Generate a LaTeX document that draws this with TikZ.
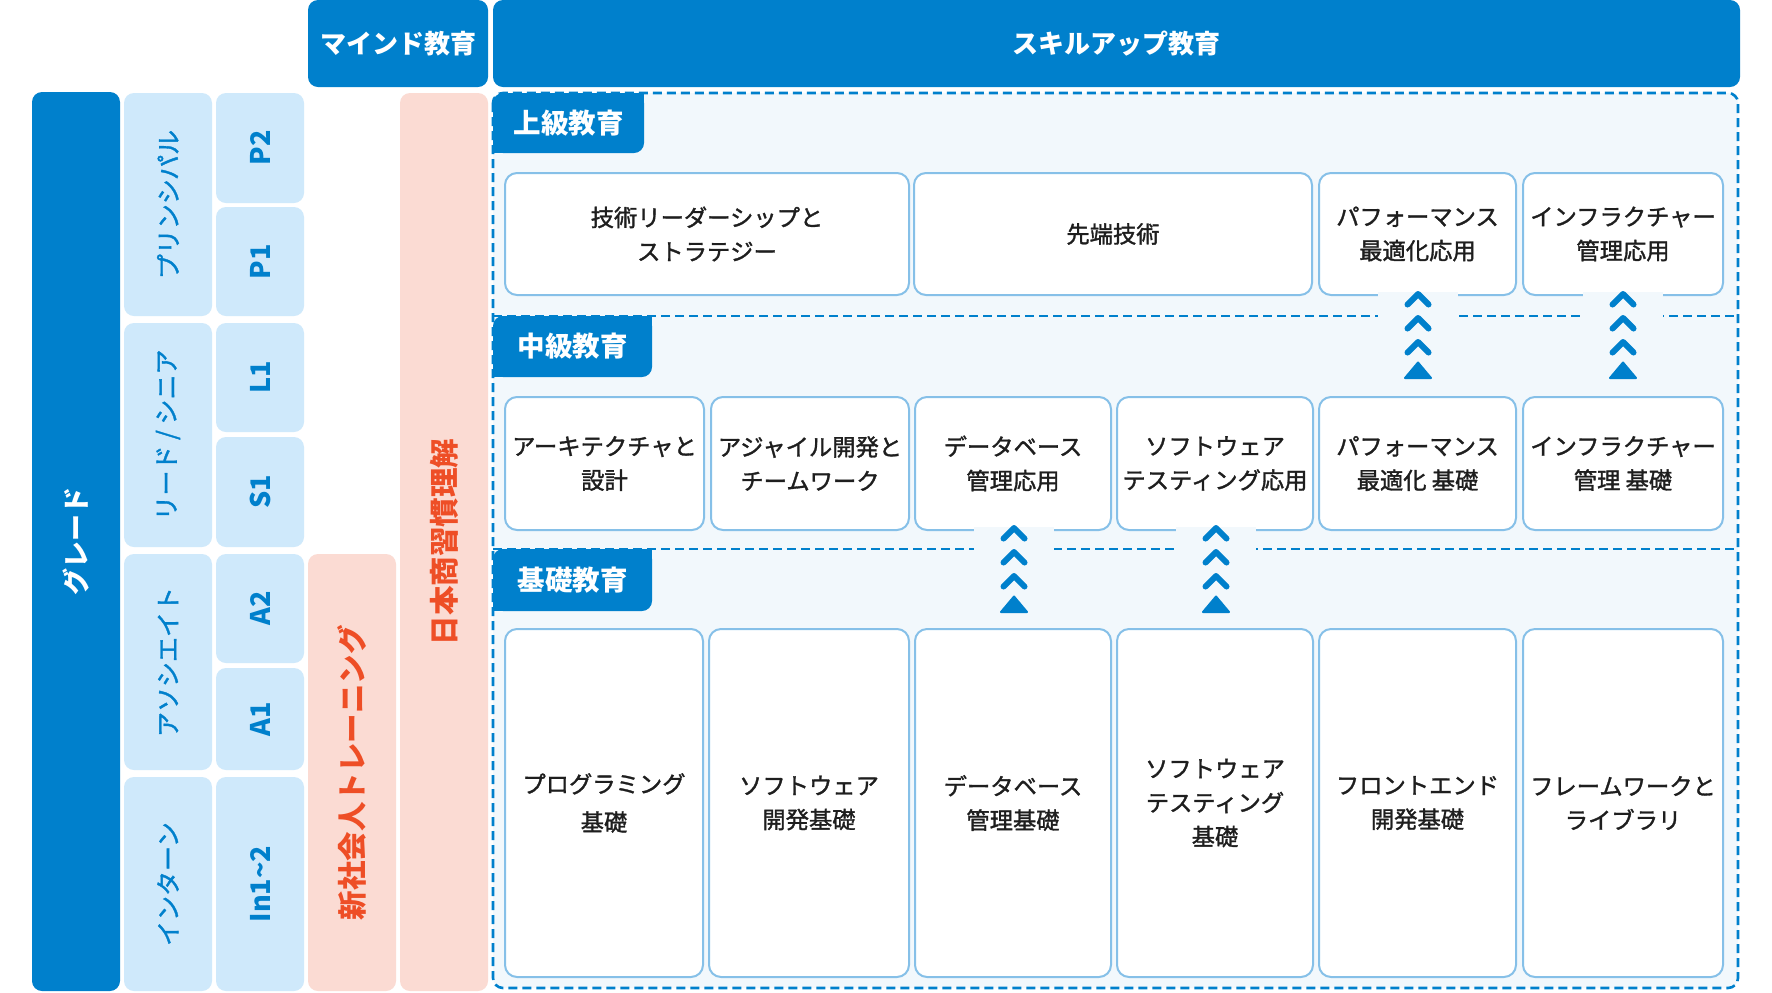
\documentclass[tikz,border=0pt]{standalone}
\usepackage{fontspec}
\setmainfont{Noto Sans CJK JP}
\newfontfamily\medfont[FakeBold=1.4]{Noto Sans CJK JP}
\definecolor{cblue}{RGB}{0,128,204}
\definecolor{clight}{RGB}{207,233,251}
\definecolor{cpink}{RGB}{251,219,211}
\definecolor{cred}{RGB}{238,78,38}
\definecolor{cbg}{RGB}{242,248,252}
\definecolor{cborder}{RGB}{134,192,232}
\definecolor{ctext}{RGB}{30,30,30}
\newcommand\rbox[7]{\node[#6, minimum width={(#4-#2)*0.5pt}, minimum height={(#5-#3)*0.5pt}] (#1) at ({(#2+#4)/2},{(#3+#5)/2}) {#7};}
\newcommand\rotbox[7]{\node[#6, rotate=90, minimum width={(#5-#3)*0.5pt}, minimum height={(#4-#2)*0.5pt}] (#1) at ({(#2+#4)/2},{(#3+#5)/2}) {#7};}
\newcommand\chev[2]{%
  \foreach \k in {0,24,48}{\draw[chevst] ({#1-10.5},{#2+\k+10.5}) -- ({#1},{#2+\k}) -- ({#1+10.5},{#2+\k+10.5});}
  \filldraw[chevtri] ({#1},{#2+68.5}) -- ({#1-13},{#2+84}) -- ({#1+13},{#2+84}) -- cycle;}
\begin{document}
\begin{tikzpicture}[x=0.5pt,y=-0.5pt,
  base/.style={inner sep=0pt, outer sep=0pt, align=center},
  hdr/.style={base, fill=cblue, rounded corners=5pt, text=white, font=\fontsize{13pt}{16pt}\selectfont\bfseries},
  grade/.style={base, fill=cblue, rounded corners=5pt, text=white, font=\fontsize{13.5pt}{16pt}\selectfont\bfseries},
  lvl/.style={base, fill=clight, rounded corners=5pt, text=cblue, font=\medfont\fontsize{12.5pt}{15pt}\selectfont},
  code/.style={base, fill=clight, rounded corners=5pt, text=cblue, font=\fontsize{13.5pt}{16pt}\selectfont\bfseries},
  pink/.style={base, fill=cpink, rounded corners=5pt, text=cred, font=\fontsize{14.75pt}{17pt}\selectfont\bfseries},
  tab/.style={base, fill=cblue, rounded corners=5pt, text=white, font=\fontsize{13.75pt}{16pt}\selectfont\bfseries},
  course/.style={base, fill=white, draw=cborder, line width=1pt, rounded corners=6pt, text=ctext, font=\medfont\fontsize{11.65pt}{17pt}\selectfont},
  region/.style={fill=cbg, draw=cblue, line width=1.3pt, dash pattern=on 4.5pt off 2.5pt, rounded corners=5pt},
  divider/.style={draw=cblue, line width=1.3pt, dash pattern=on 4.5pt off 2.5pt},
  cover/.style={fill=cbg},
  chevst/.style={draw=cblue, line width=3pt, line cap=round, line join=round},
  chevtri/.style={draw=cblue, fill=cblue, line width=1pt, line join=round}]
\useasboundingbox[fill=white] (0,0) rectangle (1772,992);
% headers
\rbox{hmind}{308}{0}{488}{87}{hdr}{マインド教育}
\rbox{hskill}{493}{0}{1740}{87}{hdr}{スキルアップ教育}
% left columns
\rotbox{grade}{32}{92}{120}{991}{grade}{グレード}
\rotbox{lp}{124}{93}{212}{316}{lvl}{プリンシパル}
\rotbox{ll}{124}{323}{212}{547}{lvl}{リード / シニア}
\rotbox{la}{124}{554}{212}{770}{lvl}{アソシエイト}
\rotbox{li}{124}{777}{212}{991}{lvl}{インターン}
\rotbox{cp2}{216}{93}{304}{203}{code}{P2}
\rotbox{cp1}{216}{207}{304}{316}{code}{P1}
\rotbox{cl1}{216}{323}{304}{432}{code}{L1}
\rotbox{cs1}{216}{437}{304}{547}{code}{S1}
\rotbox{ca2}{216}{554}{304}{663}{code}{A2}
\rotbox{ca1}{216}{668}{304}{770}{code}{A1}
\rotbox{cin}{216}{777}{304}{991}{code}{In1\textasciitilde 2}
\rotbox{newgrad}{308}{554}{396}{991}{pink}{新社会人トレーニング}
\rotbox{biz}{400}{93}{488}{991}{pink}{日本商習慣理解}
% skill region
\path[region] (493,93) rectangle (1738,988);
\path[divider] (493,316) -- (1734,316);
\path[divider] (493,549) -- (1734,549);
% tabs
\fill[cblue] (620,93) rectangle (644,120);
\fill[cblue] (493,130) rectangle (520,153);
\rbox{tadv}{493}{93}{644}{153}{tab}{上級教育}
\fill[cblue] (628,316) rectangle (652,340);
\fill[cblue] (493,350) rectangle (520,377);
\rbox{tmid}{493}{316}{652}{377}{tab}{中級教育}
\fill[cblue] (628,549) rectangle (652,573);
\fill[cblue] (493,585) rectangle (520,611);
\rbox{tbas}{493}{549}{652}{611}{tab}{基礎教育}
% upper courses
\rbox{u1}{505}{173}{909}{295}{course}{技術リーダーシップと\\ストラテジー}
\rbox{u2}{914}{173}{1312}{295}{course}{先端技術}
\rbox{u3}{1319}{173}{1516}{295}{course}{パフォーマンス\\最適化応用}
\rbox{u4}{1523}{173}{1723}{295}{course}{インフラクチャー\\管理応用}
% middle courses
\rbox{m1}{505}{397}{704}{530}{course}{アーキテクチャと\\設計}
\rbox{m2}{711}{397}{909}{530}{course}{アジャイル開発と\\チームワーク}
\rbox{m3}{915}{397}{1111}{530}{course}{データベース\\管理応用}
\rbox{m4}{1117}{397}{1313}{530}{course}{ソフトウェア\\テスティング応用}
\rbox{m5}{1319}{397}{1516}{530}{course}{パフォーマンス\\最適化 基礎}
\rbox{m6}{1523}{397}{1723}{530}{course}{インフラクチャー\\管理 基礎}
% basic courses
\rbox{b1}{505}{629}{703}{977}{course, font=\medfont\fontsize{11.65pt}{19pt}\selectfont}{プログラミング\\基礎}
\rbox{b2}{709}{629}{909}{977}{course}{ソフトウェア\\開発基礎}
\rbox{b3}{915}{629}{1111}{977}{course}{データベース\\管理基礎}
\rbox{b4}{1117}{629}{1313}{977}{course}{ソフトウェア\\テスティング\\基礎}
\rbox{b5}{1319}{629}{1516}{977}{course}{フロントエンド\\開発基礎}
\rbox{b6}{1523}{629}{1723}{977}{course}{フレームワークと\\ライブラリ}
% progression markers
\fill[cover] (1378,292) rectangle (1458,394);
\fill[cover] (1583,292) rectangle (1663,394);
\fill[cover] (974,527) rectangle (1054,626);
\fill[cover] (1176,527) rectangle (1256,626);
\chev{1418}{294}
\chev{1623}{294}
\chev{1014}{528}
\chev{1216}{528}
\end{tikzpicture}
\end{document}
